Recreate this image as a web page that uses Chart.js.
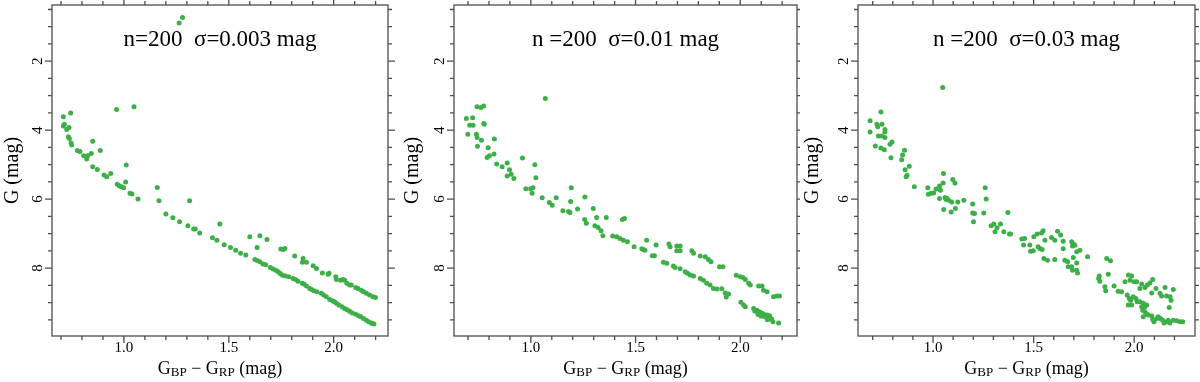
<!DOCTYPE html>
<html><head><meta charset="utf-8">
<script src="https://cdn.jsdelivr.net/npm/chart.js@4/dist/chart.umd.min.js"></script>
<style>
html,body{margin:0;padding:0;background:#fff;}
#wrap{display:flex;width:1200px;height:382px;}
.p{width:400px;height:382px;}
canvas{display:block;}
</style></head><body>
<div id="wrap">
<div class="p"><canvas id="c0" width="400" height="382"></canvas></div>
<div class="p"><canvas id="c1" width="400" height="382"></canvas></div>
<div class="p"><canvas id="c2" width="400" height="382"></canvas></div>
</div>
<script>
// ---------- data (G_BP - G_RP colour, G magnitude) ----------
const panelTitles = ['n=200  σ=0.003 mag', 'n =200  σ=0.01 mag', 'n =200  σ=0.03 mag'];
const xTitleParts = [['G', false], ['BP', true], [' − ', false], ['G', false], ['RP', true], [' (mag)', false]];
const yTitle = 'G (mag)';
const xMajorTicks = [1.0, 1.5, 2.0];
const yMajorTicks = [2, 4, 6, 8];
const xMinorTicks = [0.7,0.8,0.9,1.0,1.1,1.2,1.3,1.4,1.5,1.6,1.7,1.8,1.9,2.0,2.1,2.2];
const yMinorTicks = [0.5,1,1.5,2,2.5,3,3.5,4,4.5,5,5.5,6,6.5,7,7.5,8,8.5,9,9.5];

const stars1 = [
[1.263,0.89],[1.279,0.73],
[0.711,3.61],[0.746,3.50],[0.716,3.83],[0.711,3.88],[0.727,3.98],[0.738,3.92],[0.735,4.19],[0.740,4.24],
[0.748,4.37],[0.751,4.43],[0.778,4.59],[0.790,4.62],[0.808,4.74],[0.827,4.74],[0.822,4.84],[0.844,4.68],
[0.851,4.32],[0.887,4.59],[0.851,5.06],[0.873,5.14],[0.905,5.30],[0.918,5.35],[0.937,5.26],[0.965,3.40],
[1.048,3.32],[1.011,5.01],[0.968,5.57],[0.978,5.61],[0.987,5.64],[0.999,5.67],[1.008,5.50],[1.029,5.83],
[1.038,5.85],[1.067,6.00],[1.159,5.66],[1.167,6.05],[1.200,6.43],[1.233,6.54],[1.265,6.66],[1.313,6.05],
[1.305,6.77],[1.332,6.87],[1.340,6.87],[1.361,6.98],[1.422,7.12],[1.443,7.19],[1.457,6.72],
[1.478,7.32],[1.508,7.40],[1.533,7.48],[1.556,7.57],[1.581,7.62],[1.600,7.09],[1.635,7.40],[1.648,7.06],[1.682,7.17],
[1.624,7.75],[1.635,7.78],[1.648,7.82],[1.663,7.88],[1.676,7.90],[1.698,7.98],[1.711,8.03],[1.724,8.06],
[1.735,8.11],[1.756,8.21],[1.786,8.25],[1.806,8.30],[1.830,8.38],[1.851,8.44],[1.859,8.47],[1.870,8.52],
[1.886,8.59],[1.906,8.66],[1.920,8.69],[1.941,8.73],[1.952,8.78],[1.965,8.83],[1.981,8.91],[1.994,8.95],
[2.013,9.02],[2.025,9.07],[2.040,9.12],[2.052,9.17],[2.076,9.25],[2.089,9.30],[2.105,9.34],[2.119,9.38],
[2.129,9.41],[2.156,9.51],[2.167,9.56],[2.179,9.59],[2.192,9.62],[1.770,8.23],[1.895,8.62],[2.064,9.21],
[2.142,9.46],[2.185,9.61],[1.745,8.16],[1.818,8.33],[2.003,8.98],
[1.748,7.45],[1.759,7.46],[1.767,7.43],[1.814,7.65],[1.854,7.72],[1.851,7.83],[1.870,7.83],[1.902,7.93],
[1.918,8.01],[1.946,8.14],[1.978,8.15],[1.973,8.18],[2.010,8.25],[2.013,8.33],[2.033,8.35],[2.044,8.33],
[2.052,8.35],[2.063,8.44],[2.076,8.49],[2.084,8.49],[2.105,8.56],[2.116,8.59],[2.132,8.64],[2.143,8.69],
[2.156,8.73],[2.171,8.78],[2.187,8.83],[2.199,8.85]
];

const stars2 = [
[1.069,3.08],
[0.692,3.66],[0.722,3.64],[0.699,4.12],[0.708,3.86],[0.724,3.86],[0.743,3.32],[0.762,3.34],[0.775,3.30],
[0.775,3.81],[0.778,3.83],[0.740,4.12],[0.743,4.21],[0.745,4.47],[0.764,4.29],[0.796,4.51],[0.791,4.79],
[0.802,4.74],[0.824,4.69],[0.826,4.26],[0.837,4.98],[0.863,5.06],[0.887,4.95],[0.887,5.33],[0.898,5.15],
[0.906,5.28],[0.919,5.40],[0.960,4.81],[0.976,5.70],[0.999,5.70],[1.010,5.67],[1.006,5.83],[1.019,5.00],
[1.024,5.38],[1.054,5.96],[1.088,6.10],[1.102,6.18],[1.121,5.96],[1.153,6.34],[1.180,6.36],[1.187,6.39],
[1.193,5.67],[1.190,6.07],[1.223,6.29],[1.258,5.94],[1.257,6.59],[1.265,6.70],[1.298,6.27],[1.306,6.77],
[1.314,6.53],[1.321,6.82],[1.335,6.92],[1.344,7.06],[1.360,6.53],
[1.391,7.07],[1.410,7.09],[1.426,7.14],[1.442,7.19],[1.461,7.24],[1.437,6.59],[1.447,6.56],[1.493,7.38],
[1.530,7.44],[1.545,7.48],[1.537,7.46],[1.553,7.19],[1.580,7.64],[1.590,7.64],[1.598,7.33],[1.633,7.83],
[1.649,7.86],[1.659,7.30],[1.665,7.38],[1.681,7.94],[1.689,7.98],[1.697,7.36],[1.713,7.36],[1.697,7.50],
[1.713,7.50],[1.713,8.02],[1.737,8.11],[1.748,8.15],[1.761,8.20],[1.777,8.23],[1.769,7.50],[1.777,7.57],
[1.809,8.30],[1.824,8.35],[1.809,7.65],[1.833,7.67],[1.848,7.75],[1.860,7.82],[1.840,8.44],[1.856,8.49],
[1.872,8.59],[1.889,8.61],[1.912,8.60],[1.901,7.96],[1.917,7.96],[1.928,8.72],[1.944,8.75],[1.933,8.84],
[1.981,8.21],[2.000,8.25],[2.013,8.27],[2.024,8.33],[2.003,8.99],[2.016,9.07],[2.024,9.12],[2.040,8.44],
[2.048,8.49],[2.064,9.17],[2.080,9.22],[2.088,9.27],[2.104,9.31],[2.111,9.33],[2.128,9.36],[2.135,9.41],
[2.144,9.46],[2.156,9.56],[2.183,9.59],[2.070,9.25],[2.085,9.35],[2.095,9.28],[2.120,9.42],[2.130,9.50],
[2.140,9.38],[2.150,9.48],[2.100,9.40],
[2.088,8.52],[2.104,8.52],[2.111,8.64],[2.128,8.69],[2.159,8.83],[2.175,8.81],[2.188,8.81]
];

const stars3 = [
[1.048,2.76],[0.741,3.47],[0.687,3.73],[0.687,4.05],[0.721,3.83],[0.725,3.90],[0.746,3.83],[0.761,3.98],
[0.761,4.05],[0.728,4.17],[0.745,4.17],[0.761,4.21],[0.713,4.46],[0.741,4.52],[0.758,4.57],[0.786,4.41],
[0.796,4.34],[0.791,4.80],[0.858,4.58],[0.849,4.72],[0.844,4.86],[0.882,5.05],[0.861,5.15],[0.866,5.35],
[0.871,5.31],[0.907,5.64],[0.974,5.67],[0.977,5.86],[0.990,5.83],[1.003,5.82],[1.015,5.71],[1.032,5.62],
[1.037,5.74],[1.052,5.26],[1.050,5.53],[1.032,5.98],[1.060,5.95],[1.070,5.98],[1.077,6.03],[1.065,6.01],
[1.053,6.30],[1.098,5.43],[1.109,5.53],[1.093,6.08],[1.090,6.37],[1.111,6.27],[1.123,6.08],[1.153,6.03],
[1.197,6.14],[1.197,6.40],[1.206,6.42],[1.201,6.66],[1.259,5.67],[1.264,6.00],[1.252,6.40],[1.289,6.77],
[1.302,6.72],[1.335,6.72],[1.318,6.83],[1.308,6.95],[1.352,6.95],[1.380,7.01],[1.385,7.01],[1.372,6.39],
[1.441,7.16],[1.455,7.14],[1.450,7.33],[1.485,7.51],[1.498,7.50],[1.481,7.33],[1.501,7.09],[1.517,7.01],
[1.539,6.98],[1.547,6.92],[1.522,7.38],[1.542,7.46],[1.531,7.43],[1.556,7.19],[1.551,7.72],[1.569,7.77],
[1.589,7.11],[1.605,7.19],[1.605,7.75],[1.619,6.93],[1.634,7.04],[1.647,7.22],[1.647,7.44],[1.655,7.77],
[1.669,7.82],[1.689,7.24],[1.697,7.30],[1.705,7.34],[1.693,7.36],[1.697,7.69],[1.714,7.85],[1.672,7.96],
[1.689,7.96],[1.693,8.06],[1.714,7.53],[1.730,7.48],[1.714,8.06],[1.718,8.14],[1.768,7.67],[1.863,7.72],
[1.882,7.79],[1.826,8.23],[1.823,8.30],[1.829,8.38],[1.854,8.54],[1.858,8.66],[1.871,8.18],[1.900,8.52],
[1.920,8.67],[1.937,8.69],[1.954,8.40],[1.971,8.20],[1.979,8.35],[1.987,8.23],[1.965,8.78],[1.975,8.88],
[1.982,8.93],[1.995,8.83],[2.008,8.88],[2.015,8.98],[1.970,9.07],[1.987,9.07],[1.999,8.40],[2.012,8.40],
[2.028,8.98],[2.045,9.02],[2.037,9.12],[2.053,9.12],[2.062,9.07],[2.042,9.22],[2.053,9.27],[2.062,9.33],
[2.045,9.41],[2.070,9.36],[2.028,8.59],[2.037,8.46],[2.053,8.56],[2.065,8.49],[2.078,8.43],[2.092,8.33],
[2.087,8.72],[2.087,9.39],[2.092,9.49],[2.098,9.56],[2.112,9.46],[2.119,9.41],[2.131,9.46],[2.141,9.51],
[2.148,9.59],[2.161,9.56],[2.169,9.51],[2.177,9.59],[2.194,9.51],[2.211,9.53],[2.227,9.56],[2.241,9.56],
[2.108,8.59],[2.128,8.73],[2.136,8.81],[2.153,8.56],[2.161,8.81],[2.178,8.83],[2.183,8.93],[2.194,8.62],
[2.174,9.14]
];

const panelStars = [stars1, stars2, stars3];
const xRanges = [[0.657, 2.259], [0.633, 2.271], [0.627, 2.302]];
const yRange = [0.37, 9.97];

// ---------- layout / style ----------
const FONT = "'Liberation Serif', 'Times New Roman', serif";
const plotLeft = [52, 54, 58];
const plotRight = [388, 397, 395];
const plotTop = 5, plotBottom = 336, H = 382, W = 400;
const GREEN = '#3daf48';
const FRAME = '#4d4d4d';
const MAJ = 7, MIN = 4;

const framePlugin = {
  id: 'framePlugin',
  afterDraw(chart, args, opts) {
    const {ctx, chartArea: a, scales: {x, y}} = chart;
    ctx.save();
    ctx.strokeStyle = FRAME;
    ctx.lineWidth = 1.3;
    ctx.strokeRect(a.left, a.top, a.right - a.left, a.bottom - a.top);
    ctx.beginPath();
    const isMajor = (arr, v) => arr.some(m => Math.abs(m - v) < 1e-6);
    xMinorTicks.forEach(v => {
      const px = x.getPixelForValue(v);
      const L = isMajor(xMajorTicks, v) ? MAJ : MIN;
      ctx.moveTo(px, a.bottom); ctx.lineTo(px, a.bottom + L);
      ctx.moveTo(px, a.top); ctx.lineTo(px, a.top - L);
    });
    yMinorTicks.forEach(v => {
      const py = y.getPixelForValue(v);
      const L = isMajor(yMajorTicks, v) ? MAJ : MIN;
      ctx.moveTo(a.left, py); ctx.lineTo(a.left - L, py);
      ctx.moveTo(a.right, py); ctx.lineTo(a.right + L, py);
    });
    ctx.stroke();

    // panel annotation
    ctx.fillStyle = '#000';
    ctx.font = '23px ' + FONT;
    ctx.textAlign = 'center';
    ctx.textBaseline = 'middle';
    ctx.fillText(opts.title, (a.left + a.right) / 2, 40);

    // x-axis title with subscripts
    const big = '18px ' + FONT, small = '13px ' + FONT;
    let total = 0;
    xTitleParts.forEach(([t, sub]) => { ctx.font = sub ? small : big; total += ctx.measureText(t).width; });
    let cx = (a.left + a.right) / 2 - total / 2;
    ctx.textAlign = 'left';
    ctx.textBaseline = 'alphabetic';
    const base = 374;
    xTitleParts.forEach(([t, sub]) => {
      ctx.font = sub ? small : big;
      ctx.fillText(t, cx, sub ? base + 2 : base);
      cx += ctx.measureText(t).width;
    });
    ctx.restore();
  }
};

panelStars.forEach((stars, i) => {
  const ctx = document.getElementById('c' + i).getContext('2d');
  new Chart(ctx, {
    type: 'scatter',
    data: {
      datasets: [{
        data: stars.map(([c, g]) => ({x: c, y: g})),
        backgroundColor: GREEN,
        borderWidth: 0,
        pointRadius: 2.5,
        pointHoverRadius: 2.5
      }]
    },
    options: {
      responsive: false,
      animation: false,
      devicePixelRatio: 1,
      layout: {padding: {left: 0, top: plotTop, right: W - plotRight[i], bottom: 0}},
      plugins: {
        legend: {display: false},
        tooltip: {enabled: false},
        title: {display: false},
        framePlugin: {title: panelTitles[i]}
      },
      scales: {
        x: {
          type: 'linear',
          min: xRanges[i][0], max: xRanges[i][1],
          afterBuildTicks: s => { s.ticks = xMajorTicks.map(v => ({value: v})); },
          afterFit: s => { s.height = H - plotBottom; s.paddingLeft = 0; s.paddingRight = 0; },
          grid: {display: false, drawTicks: false},
          border: {display: false},
          ticks: {
            autoSkip: false, maxRotation: 0, minRotation: 0, padding: 3,
            color: '#000', font: {family: FONT, size: 15},
            callback: v => Number(v).toFixed(1)
          }
        },
        y: {
          type: 'linear',
          reverse: true,
          min: yRange[0], max: yRange[1],
          afterBuildTicks: s => { s.ticks = yMajorTicks.map(v => ({value: v})); },
          afterFit: s => { s.width = plotLeft[i]; s.paddingTop = 0; s.paddingBottom = 0; },
          grid: {display: false, drawTicks: false},
          border: {display: false},
          ticks: {
            autoSkip: false, minRotation: 90, maxRotation: 90, crossAlign: 'center', padding: 10,
            color: '#000', font: {family: FONT, size: 15},
            callback: v => String(v)
          },
          title: {display: true, text: yTitle, color: '#000', font: {family: FONT, size: 20}, padding: {top: 1, bottom: 0}}
        }
      }
    },
    plugins: [framePlugin]
  });
});
</script>
</body></html>
